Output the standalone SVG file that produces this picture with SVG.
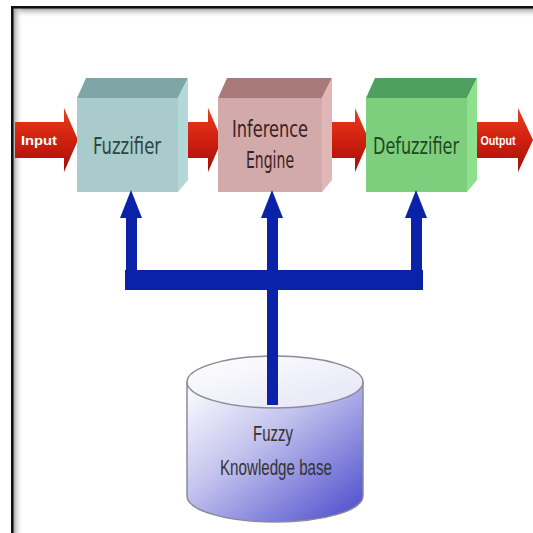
<svg xmlns="http://www.w3.org/2000/svg" width="533" height="533" viewBox="0 0 533 533">
<defs>
<linearGradient id="frameTop" x1="0" y1="0" x2="0" y2="1"><stop offset="0" stop-color="#999"/><stop offset="1" stop-color="#fff" stop-opacity="0"/></linearGradient>
<linearGradient id="frameLeft" x1="0" y1="0" x2="1" y2="0"><stop offset="0" stop-color="#999"/><stop offset="1" stop-color="#fff" stop-opacity="0"/></linearGradient>
<linearGradient id="red" x1="0" y1="0" x2="0" y2="1"><stop offset="0" stop-color="#e8401c"/><stop offset="0.5" stop-color="#d02010"/><stop offset="1" stop-color="#a01008"/></linearGradient>
<linearGradient id="cyl" x1="0" y1="0" x2="1" y2="1"><stop offset="0" stop-color="#ffffff"/><stop offset="0.4" stop-color="#c4c4ee"/><stop offset="1" stop-color="#4848cc"/></linearGradient>
<linearGradient id="cylTop" x1="0" y1="0" x2="1" y2="1"><stop offset="0" stop-color="#ffffff"/><stop offset="1" stop-color="#e4e4f6"/></linearGradient>
</defs>
<style>
.arrow{fill:url(#red)}
.atext{font-family:"Liberation Sans",Arial,sans-serif;font-weight:bold;font-size:12px;fill:#fff;text-anchor:middle}
.btext{font-family:"DejaVu Sans",sans-serif;font-size:16px;text-anchor:middle}
.kb{font-family:"Liberation Sans",Arial,sans-serif;font-size:16px;fill:#333;text-anchor:middle}
.conn{fill:#0a22a8}
</style>
<rect width="533" height="533" fill="#fff"/>
<g id="frame">
<rect x="13" y="8" width="520" height="10" fill="url(#frameTop)"/>
<rect x="13" y="8" width="10" height="525" fill="url(#frameLeft)"/>
<rect x="11" y="6" width="522" height="2.5" fill="#111"/>
<rect x="11" y="6" width="2.5" height="527" fill="#111"/>
</g>
<g id="flow-arrows">
<g id="arrow-input"><polygon class="arrow" points="15,122 64,122 64,108 78,140 64,172 64,158 15,158"/><text class="atext" x="39" y="145" textLength="36" lengthAdjust="spacingAndGlyphs">Input</text></g>
<polygon class="arrow" points="180,122 208,122 208,108 222,140 208,172 208,158 180,158"/>
<polygon class="arrow" points="326,122 355,122 355,108 369,140 355,172 355,158 326,158"/>
<g id="arrow-output"><polygon class="arrow" points="472,122 518,122 518,108 533,140 518,172 518,158 472,158"/><text class="atext" x="498" y="145" textLength="35" lengthAdjust="spacingAndGlyphs">Output</text></g>
</g>
<g id="fuzzifier">
<polygon points="77,98 178,98 188,78 86,78" fill="#7fa6a6"/>
<polygon points="178,98 188,78 188,180 178,192" fill="#b4d8d8"/>
<rect x="77" y="98" width="101" height="94" fill="#a9cbcb"/>
<text class="btext" transform="translate(127,154) scale(1,1.42)" fill="#2d4545" textLength="68" lengthAdjust="spacingAndGlyphs">Fuzzifier</text>
</g>
<g id="inference-engine">
<polygon points="218,98 322,98 332,78 227,78" fill="#a87a7a"/>
<polygon points="322,98 332,78 332,180 322,192" fill="#e0b6b6"/>
<rect x="218" y="98" width="104" height="94" fill="#d3aaaa"/>
<text class="btext" transform="translate(270,137) scale(1,1.42)" fill="#3a2222" textLength="76" lengthAdjust="spacingAndGlyphs">Inference</text>
<text class="btext" transform="translate(270,168) scale(1,1.42)" fill="#3a2222" textLength="48" lengthAdjust="spacingAndGlyphs">Engine</text>
</g>
<g id="defuzzifier">
<polygon points="366,98 467,98 477,78 375,78" fill="#4f9f5f"/>
<polygon points="467,98 477,78 477,180 467,192" fill="#8ee08e"/>
<rect x="366" y="98" width="101" height="94" fill="#7dcf7d"/>
<text class="btext" transform="translate(416,154) scale(1,1.42)" fill="#1f4a1f" textLength="86" lengthAdjust="spacingAndGlyphs">Defuzzifier</text>
</g>
<g id="knowledge-base">
<path d="M187,382 L187,496 A88,26 0 0 0 363,496 L363,382 Z" fill="url(#cyl)" stroke="#8a8a9a" stroke-width="1.5"/>
<ellipse cx="275" cy="382" rx="88" ry="26" fill="url(#cylTop)" stroke="#8a8a9a" stroke-width="1.5"/>
<text class="kb" transform="translate(273,441) scale(1,1.38)" textLength="40" lengthAdjust="spacingAndGlyphs">Fuzzy</text>
<text class="kb" transform="translate(276,475) scale(1,1.38)" textLength="112" lengthAdjust="spacingAndGlyphs">Knowledge base</text>
</g>
<g id="connectors">
<rect class="conn" x="125" y="270" width="298" height="20"/>
<rect class="conn" x="126" y="215" width="11" height="60"/>
<polygon class="conn" points="120,218 131,190 142,218"/>
<rect class="conn" x="267" y="215" width="11" height="190"/>
<polygon class="conn" points="261,218 272,190 283,218"/>
<rect class="conn" x="411" y="215" width="11" height="60"/>
<polygon class="conn" points="405,218 416,190 427,218"/>
</g>
</svg>
